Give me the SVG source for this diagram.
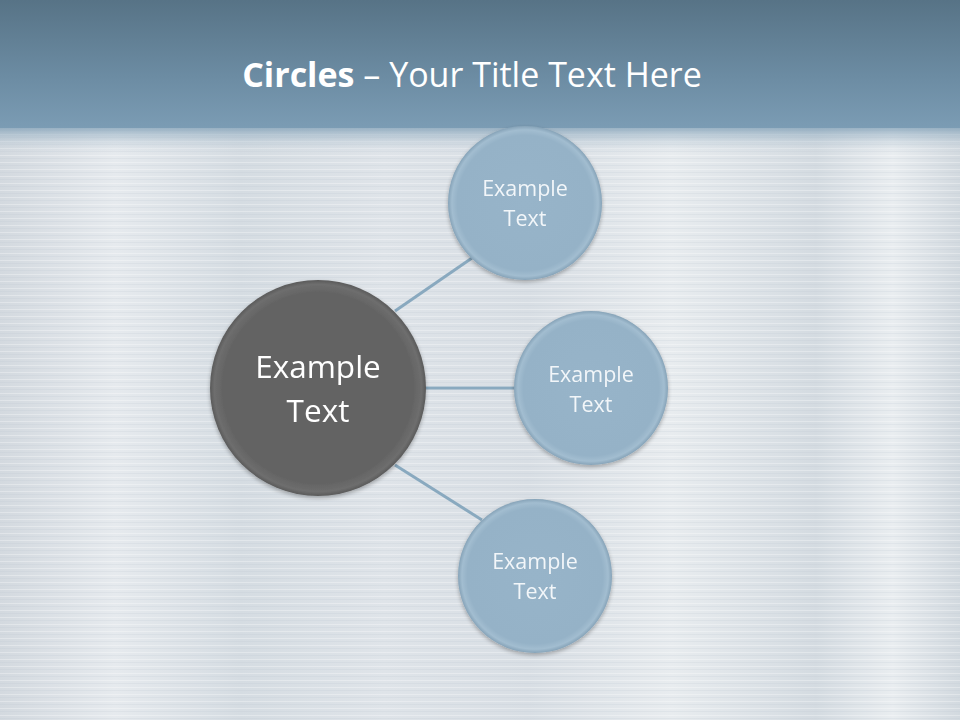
<svg xmlns="http://www.w3.org/2000/svg" width="960" height="720" viewBox="0 0 960 720">
<defs>
<linearGradient id="hdr" x1="0" y1="0" x2="0" y2="1">
<stop offset="0" stop-color="#577386"/>
<stop offset="0.6" stop-color="#6c8ca3"/>
<stop offset="1" stop-color="#7b9cb4"/>
</linearGradient>
<linearGradient id="hdrfade" x1="0" y1="0" x2="0" y2="1">
<stop offset="0" stop-color="#7b9cb4"/>
<stop offset="1" stop-color="#d6dee5" stop-opacity="0"/>
</linearGradient>
<linearGradient id="bg" x1="0" y1="0" x2="1" y2="0">
<stop offset="0" stop-color="#d3d9df"/>
<stop offset="0.12" stop-color="#e6eaee"/>
<stop offset="0.25" stop-color="#d5dce2"/>
<stop offset="0.4" stop-color="#dfe4e9"/>
<stop offset="0.55" stop-color="#d8dee4"/>
<stop offset="0.7" stop-color="#e8ecef"/>
<stop offset="0.85" stop-color="#d4dbe1"/>
<stop offset="0.93" stop-color="#e9edf0"/>
<stop offset="1" stop-color="#d2d9df"/>
</linearGradient>
<pattern id="streak" width="960" height="7" patternUnits="userSpaceOnUse">
<rect x="0" y="1" width="960" height="1" fill="#ffffff" opacity="0.3"/>
<rect x="0" y="4" width="960" height="1" fill="#b8c2cb" opacity="0.18"/>
</pattern>
<radialGradient id="blue" cx="0.5" cy="0.5" r="0.5">
<stop offset="0" stop-color="#97b4c9"/>
<stop offset="0.88" stop-color="#95b2c7"/>
<stop offset="0.95" stop-color="#a2bdd0"/>
<stop offset="1" stop-color="#86a3b8"/>
</radialGradient>
<radialGradient id="dark" cx="0.5" cy="0.5" r="0.5">
<stop offset="0" stop-color="#646464"/>
<stop offset="0.88" stop-color="#636363"/>
<stop offset="0.96" stop-color="#6e6e6e"/>
<stop offset="1" stop-color="#5a5a5a"/>
</radialGradient>
<filter id="sh" x="-20%" y="-20%" width="140%" height="140%">
<feGaussianBlur in="SourceAlpha" stdDeviation="2"/>
<feOffset dx="0" dy="2"/>
<feComponentTransfer><feFuncA type="linear" slope="0.3"/></feComponentTransfer>
<feMerge><feMergeNode/><feMergeNode in="SourceGraphic"/></feMerge>
</filter>
</defs>
<style>
.t{font-family:"Open Sans","Liberation Sans",sans-serif;fill:#ffffff;text-anchor:middle}
.s{font-size:21.5px;fill:#f2f6f9}
.b{font-size:31.5px}
.ln{stroke:#89a9bf;stroke-width:3;fill:none}
</style>
<rect width="960" height="720" fill="url(#bg)"/>
<rect width="960" height="720" fill="url(#streak)"/>
<rect x="0" y="0" width="960" height="128" fill="url(#hdr)"/>
<rect x="0" y="128" width="960" height="26" fill="url(#hdrfade)" opacity="0.7"/>
<text x="472" y="87" class="t" style="font-size:34px"><tspan font-weight="bold">Circles</tspan> – Your Title Text Here</text>
<g id="connectors">
<line class="ln" x1="395" y1="311" x2="472" y2="258"/>
<line class="ln" x1="424" y1="388" x2="516" y2="388"/>
<line class="ln" x1="395" y1="465" x2="482" y2="520"/>
</g>
<g id="center" filter="url(#sh)">
<circle cx="318" cy="388" r="108" fill="url(#dark)"/>
<text class="t b" x="318" y="378">Example</text>
<text class="t b" x="318" y="422">Text</text>
</g>
<g id="top" filter="url(#sh)">
<circle cx="525" cy="203" r="77" fill="url(#blue)"/>
<text class="t s" x="525" y="196">Example</text>
<text class="t s" x="525" y="226">Text</text>
</g>
<g id="middle" filter="url(#sh)">
<circle cx="591" cy="388" r="77" fill="url(#blue)"/>
<text class="t s" x="591" y="382">Example</text>
<text class="t s" x="591" y="412">Text</text>
</g>
<g id="bottom" filter="url(#sh)">
<circle cx="535" cy="576" r="77" fill="url(#blue)"/>
<text class="t s" x="535" y="569">Example</text>
<text class="t s" x="535" y="599">Text</text>
</g>
</svg>
